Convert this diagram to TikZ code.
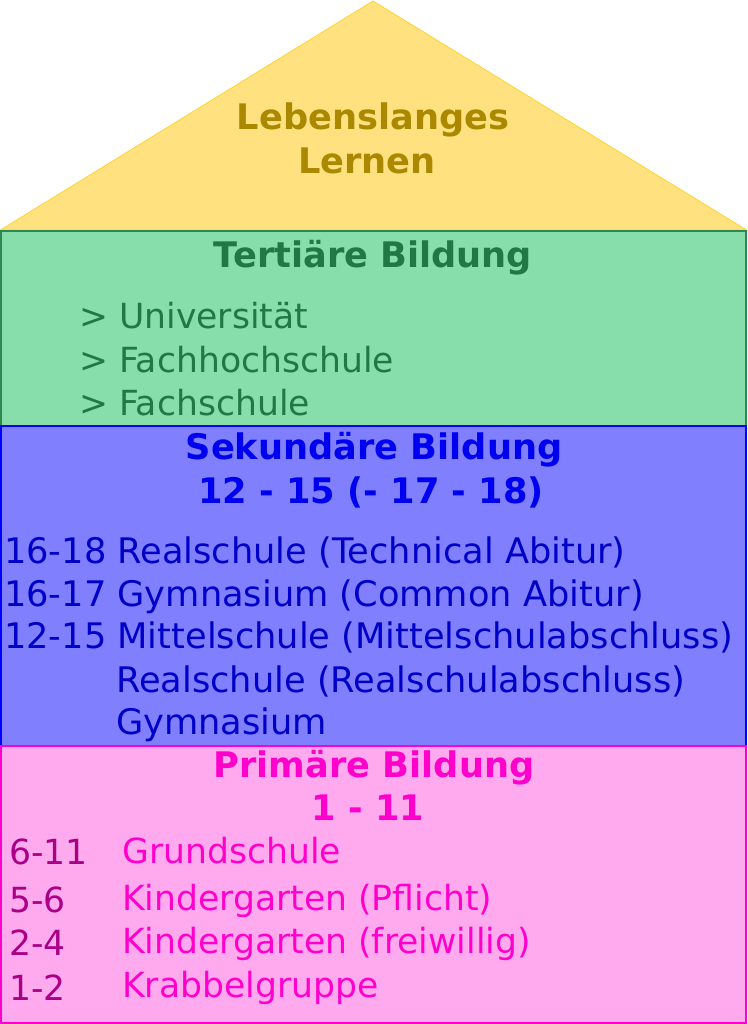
\documentclass[tikz,border=0pt]{standalone}
\usepackage{fontspec}
\setmainfont{DejaVu Sans}
\usepackage{xcolor}
\usepackage{tikz}
\definecolor{roofbg}{HTML}{FFE17F}
\definecolor{roofline}{HTML}{FFD42A}
\definecolor{rooftext}{HTML}{AA8800}
\definecolor{tertbg}{HTML}{87DEAA}
\definecolor{tertline}{HTML}{2C8A50}
\definecolor{terttext}{HTML}{217844}
\definecolor{sekbg}{HTML}{8080FF}
\definecolor{sekline}{HTML}{0000FF}
\definecolor{sekhead}{HTML}{0000F0}
\definecolor{sektext}{HTML}{0000C8}
\definecolor{primbg}{HTML}{FFAAEE}
\definecolor{primline}{HTML}{FF00CC}
\definecolor{primtext}{HTML}{FF00CC}
\definecolor{primnum}{HTML}{AA0088}
\tikzset{
  floor/.style={line width=1.2pt},
  head/.style={anchor=base, inner sep=0pt, font=\fontsize{35.2}{42}\selectfont\bfseries},
  item/.style={anchor=base west, inner sep=0pt, font=\fontsize{35.2}{42}\selectfont},
  smallitem/.style={item, font=\fontsize{34.6}{42}\selectfont}
}
\begin{document}
\begin{tikzpicture}[x=1pt,y=-1pt]
  \useasboundingbox (0,0) rectangle (747,1024);

  % roof
  \filldraw[fill=roofbg, draw=roofline, line width=0.8pt] (0.5,230) -- (373,1) -- (746.5,230) -- cycle;
  \node[head, text=rooftext] (roof1) at (373,130) {Lebenslanges};
  \node[head, text=rooftext] (roof2) at (367,174) {Lernen};

  % tertiaer
  \filldraw[floor, fill=tertbg, draw=tertline] (1,231) rectangle (746,426);
  \node[head, text=terttext] (terthead) at (373,267) {Tertiäre Bildung};
  \node[smallitem, text=terttext] (tert1) at (79,328) {> Universität};
  \node[smallitem, text=terttext] (tert2) at (79,372) {> Fachhochschule};
  \node[smallitem, text=terttext] (tert3) at (79,415) {> Fachschule};

  % sekundaer
  \filldraw[floor, fill=sekbg, draw=sekline] (1,426) rectangle (746,746);
  \node[head, text=sekhead] (sekhead1) at (374,459) {Sekundäre Bildung};
  \node[head, text=sekhead] (sekhead2) at (371,503) {12 - 15 (- 17 - 18)};
  \node[item, text=sektext] (sek1) at (4,563) {16-18 Realschule (Technical Abitur)};
  \node[item, text=sektext] (sek2) at (4,606) {16-17 Gymnasium (Common Abitur)};
  \node[item, text=sektext] (sek3) at (4,648) {12-15 Mittelschule (Mittelschulabschluss)};
  \node[item, text=sektext] (sek4) at (116,692) {Realschule (Realschulabschluss)};
  \node[item, text=sektext] (sek5) at (116,734) {Gymnasium};

  % primaer
  \filldraw[floor, fill=primbg, draw=primline] (1,746) rectangle (746,1023);
  \node[head, text=primtext] (primhead1) at (374,777) {Primäre Bildung};
  \node[head, text=primtext] (primhead2) at (368,820) {1 - 11};
  \node[smallitem, text=primnum] (age1) at (9,864) {6-11};
  \node[smallitem, text=primnum] (age2) at (9,912) {5-6};
  \node[smallitem, text=primnum] (age3) at (9,955) {2-4};
  \node[smallitem, text=primnum] (age4) at (9,1000) {1-2};
  \node[smallitem, text=primtext] (prim1) at (122,863) {Grundschule};
  \node[smallitem, text=primtext] (prim2) at (122,910) {Kindergarten (Pflicht)};
  \node[smallitem, text=primtext] (prim3) at (122,953) {Kindergarten (freiwillig)};
  \node[smallitem, text=primtext] (prim4) at (122,997) {Krabbelgruppe};
\end{tikzpicture}
\end{document}
